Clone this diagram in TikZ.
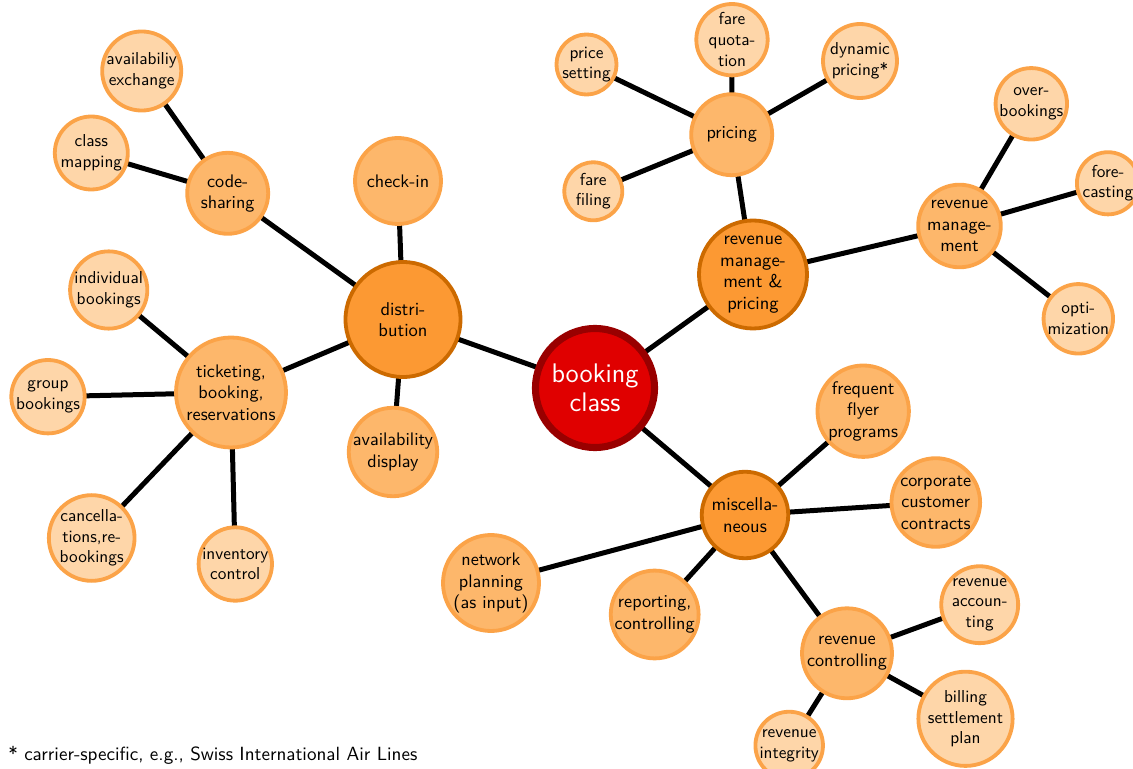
\documentclass[tikz,border=0pt]{standalone}
\usepackage{fontspec}
\usetikzlibrary{backgrounds}
\renewcommand{\familydefault}{\sfdefault}

\definecolor{rootfill}{RGB}{224,0,0}
\definecolor{rootline}{RGB}{153,0,0}
\definecolor{mainfill}{RGB}{252,153,51}
\definecolor{mainline}{RGB}{204,106,0}
\definecolor{subfill}{RGB}{253,183,107}
\definecolor{subline}{RGB}{251,163,72}
\definecolor{leaffill}{RGB}{254,214,169}
\definecolor{leafline}{RGB}{251,163,72}

\tikzset{
  concept/.style={circle, inner sep=0pt, align=center, text=black},
  rootc/.style={concept, fill=rootfill, draw=rootline, line width=3.9pt,
    text=white, font=\fontsize{14.8}{15.8}\selectfont},
  mainc/.style={concept, fill=mainfill, draw=mainline, line width=2.1pt,
    font=\fontsize{10.2}{11.8}\selectfont},
  subc/.style={concept, fill=subfill, draw=subline, line width=2.1pt,
    font=\fontsize{10}{11.8}\selectfont},
  leafc/.style={concept, fill=leaffill, draw=leafline, line width=2.1pt,
    font=\fontsize{9.5}{11.4}\selectfont},
  link/.style={line width=2.75pt, black},
  sz/.style={minimum size=#1*0.55pt},
}

\begin{document}
\begin{tikzpicture}[x=0.55pt, y=-0.55pt]
\useasboundingbox (0,0) rectangle (1133,769);

% centre
\node[rootc, sz=119] (root) at (595,388) {booking\\class};

% first ring
\node[mainc, sz=115] (dist) at (403,319.5) {distri-\\bution};
\node[mainc, sz=108] (rmp)  at (753,274.5) {revenue\\manage-\\ment \&\\pricing};
\node[mainc, sz=86.5] (misc) at (745,515) {miscella-\\neous};

% distribution branch
\node[subc, sz=81]  (code)   at (227.7,193.3) {code-\\sharing};
\node[subc, sz=86]  (check)  at (398,181) {check-in};
\node[subc, sz=110] (ticket) at (231,392.5) {ticketing,\\booking,\\reservations};
\node[subc, sz=81]  (avail)  at (393,452) {availability\\display};

\node[leafc, sz=78] (exch)  at (141.7,71) {availabiliy\\exchange};
\node[leafc, sz=73] (cmap)  at (91.3,153) {class\\mapping};
\node[leafc, sz=73] (indiv) at (108.7,290) {individual\\bookings};
\node[leafc, sz=73.4] (group) at (48,396.7) {group\\bookings};
\node[leafc, sz=73.6] (canc)  at (91.7,538) {cancella-\\tions,re-\\bookings};
\node[leafc, sz=73.4] (inv)   at (235.3,564) {inventory\\control};

% revenue management & pricing branch
\node[subc, sz=81]   (pricing) at (731.7,134.7) {pricing};
\node[subc, sz=80.6] (rm)      at (959.5,226) {revenue\\manage-\\ment};

\node[leafc, sz=58] (pset)  at (586.5,64.5) {price\\setting};
\node[leafc, sz=58] (fquot) at (732,39.7) {fare\\quota-\\tion};
\node[leafc, sz=74] (dyn)   at (860,61) {dynamic\\pricing*};
\node[leafc, sz=58] (ffil)  at (593.3,191.3) {fare\\filing};
\node[leafc, sz=58.6] (over) at (1031.3,103.8) {over-\\bookings};
\node[leafc, sz=59.4] (fore) at (1108,183.3) {fore-\\casting};
\node[leafc, sz=59.4] (opti) at (1078.3,318.8) {opti-\\mization};

% miscellaneous branch
\node[subc, sz=90.6] (ffp)  at (863.2,411.2) {frequent\\flyer\\programs};
\node[subc, sz=81]   (corp) at (935.8,502.5) {corporate\\customer\\contracts};
\node[subc, sz=78.6] (rep)  at (654.7,614.5) {reporting,\\controlling};
\node[subc, sz=90]   (rc)   at (847,653.3) {revenue\\controlling};
\node[subc, sz=78]   (net)  at (491,583) {network\\planning\\(as input)};

\node[leafc, sz=58.6] (racc) at (979.7,604.7) {revenue\\accoun-\\ting};
\node[leafc, sz=67]   (bill) at (965.5,718.8) {billing\\settlement\\plan};
\node[leafc, sz=59]   (rint) at (789.2,745.5) {revenue\\integrity};

% footnote
\node[anchor=base west, inner sep=0pt, font=\fontsize{10.5}{12}\selectfont] (note)
  at (8,760) {* carrier-specific, e.g., Swiss International Air Lines};

% connectors, kept beneath the circles
\begin{scope}[on background layer]
  \draw[link] (root.center) -- (dist.center);
  \draw[link] (root.center) -- (rmp.center);
  \draw[link] (root.center) -- (misc.center);

  \draw[link] (dist.center) -- (code.center);
  \draw[link] (dist.center) -- (check.center);
  \draw[link] (dist.center) -- (ticket.center);
  \draw[link] (dist.center) -- (avail.center);
  \draw[link] (code.center) -- (exch.center);
  \draw[link] (code.center) -- (cmap.center);
  \draw[link] (ticket.center) -- (indiv.center);
  \draw[link] (ticket.center) -- (group.center);
  \draw[link] (ticket.center) -- (canc.center);
  \draw[link] (ticket.center) -- (inv.center);

  \draw[link] (rmp.center) -- (pricing.center);
  \draw[link] (rmp.center) -- (rm.center);
  \draw[link] (pricing.center) -- (pset.center);
  \draw[link] (pricing.center) -- (fquot.center);
  \draw[link] (pricing.center) -- (dyn.center);
  \draw[link] (pricing.center) -- (ffil.center);
  \draw[link] (rm.center) -- (over.center);
  \draw[link] (rm.center) -- (fore.center);
  \draw[link] (rm.center) -- (opti.center);

  \draw[link] (misc.center) -- (ffp.center);
  \draw[link] (misc.center) -- (corp.center);
  \draw[link] (misc.center) -- (rep.center);
  \draw[link] (misc.center) -- (rc.center);
  \draw[link] (misc.center) -- (net.center);
  \draw[link] (rc.center) -- (racc.center);
  \draw[link] (rc.center) -- (bill.center);
  \draw[link] (rc.center) -- (rint.center);
\end{scope}
\end{tikzpicture}
\end{document}
